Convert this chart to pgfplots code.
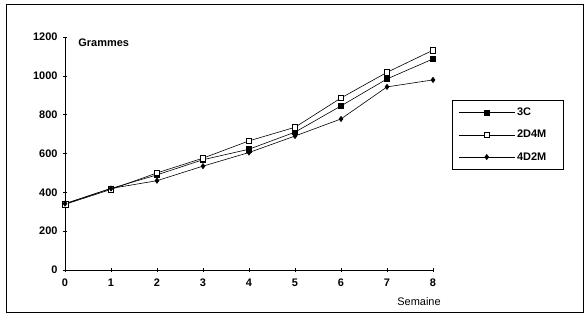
\documentclass[border=0pt]{standalone}
\usepackage{pgfplots}
\pgfplotsset{compat=1.18}
\usepackage{fontspec}
\setmainfont{Liberation Sans}
\begin{document}
\begin{tikzpicture}[x=1bp,y=1bp]
\useasboundingbox (-65bp,-47bp) rectangle (519bp,270bp);
\draw[line width=0.8bp] (-59bp,-42bp) rectangle (518bp,266bp);
\begin{axis}[
  at={(0,0)}, anchor=origin,
  scale only axis, width=368bp, height=233bp,
  xmin=0, xmax=8, ymin=0, ymax=1200,
  axis lines=left, axis line style={-, line width=0.7bp},
  xtick={0,...,8}, ytick={0,200,...,1200},
  tick align=center, major tick length=4bp,
  tick style={line width=0.6bp, black},
  clip=false,
  /pgf/number format/assume math mode=true,
  /pgf/number format/1000 sep={},
  ticklabel style={font=\fontsize{11}{13}\selectfont\bfseries},
  xticklabel style={yshift=-3bp},
  yticklabel style={xshift=-2bp},
  legend style={at={(rel axis cs:1.052,0.730)}, anchor=north west,
    draw=black, line width=0.6bp, font=\fontsize{11}{13}\selectfont\bfseries,
    row sep=9bp, inner xsep=6bp, inner ysep=6bp,
    /tikz/every even column/.append style={column sep=4bp},
    text width=38bp},
  legend cell align=left,
  legend image code/.code={\draw[mark repeat=2,mark phase=2,#1] plot coordinates {(0bp,0bp) (28bp,0bp) (56bp,0bp)};},
  every axis plot/.append style={black, line width=0.6bp},
]
\addplot[mark=square*, mark size=2.6bp, mark options={fill=black}] coordinates {
(0,340) (1,420) (2,490) (3,568) (4,622) (5,710) (6,845) (7,984) (8,1087)};
\addlegendentry{3C}
\addplot[mark=square*, mark size=2.8bp, mark options={fill=white}] coordinates {
(0,338) (1,415) (2,500) (3,576) (4,665) (5,735) (6,886) (7,1018) (8,1132)};
\addlegendentry{2D4M}
\addplot[mark=diamond*, mark size=2.6bp, mark options={fill=black}] coordinates {
(0,342) (1,420) (2,460) (3,535) (4,605) (5,690) (6,778) (7,943) (8,979)};
\addlegendentry{4D2M}
\node[anchor=west, font=\fontsize{11}{13}\selectfont\bfseries] at (rel axis cs:0.027,0.975) {Grammes};
\node[font=\fontsize{11}{13}\selectfont] at (rel axis cs:0.962,-0.137) {Semaine};
\end{axis}
\end{tikzpicture}
\end{document}
